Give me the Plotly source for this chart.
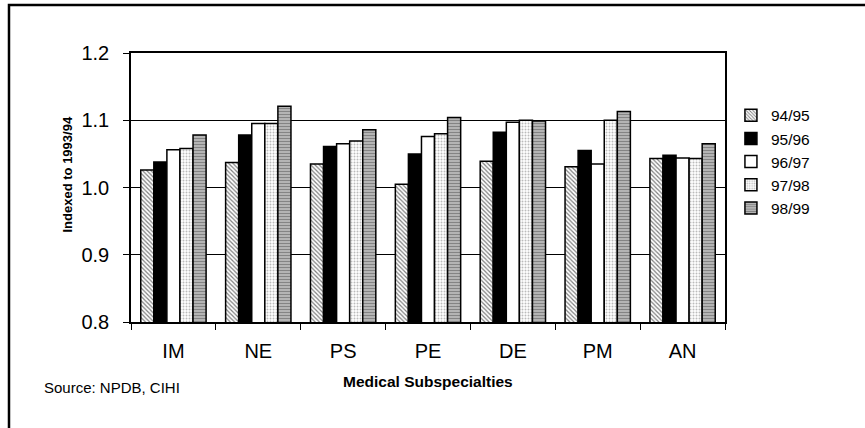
import plotly.graph_objects as go

categories = ["IM", "NE", "PS", "PE", "DE", "PM", "AN"]
series_names = ["94/95", "95/96", "96/97", "97/98", "98/99"]
v9495 = [1.026, 1.037, 1.035, 1.005, 1.039, 1.031, 1.043]
v9596 = [1.038, 1.078, 1.061, 1.050, 1.082, 1.055, 1.048]
v9697 = [1.056, 1.095, 1.065, 1.076, 1.097, 1.035, 1.044]
v9798 = [1.058, 1.095, 1.069, 1.080, 1.100, 1.100, 1.043]
v9899 = [1.078, 1.121, 1.086, 1.104, 1.099, 1.113, 1.065]
values = [v9495, v9596, v9697, v9798, v9899]

styles = [
    dict(color="white", pattern=dict(shape="\\", fgcolor="#000000", bgcolor="#ffffff", size=3, solidity=0.4)),
    dict(color="black"),
    dict(color="white"),
    dict(color="white", pattern=dict(shape=".", fgcolor="#777777", bgcolor="#ffffff", size=3, solidity=0.35)),
    dict(color="#aaaaaa", pattern=dict(shape="-", fgcolor="#444444", bgcolor="#c4c4c4", size=3, solidity=0.5)),
]

FONT = "Arial, Liberation Sans, sans-serif"

fig = go.Figure()
for i, (name, vals, st) in enumerate(zip(series_names, values, styles)):
    marker = dict(line=dict(color="black", width=1.5), **st)
    fig.add_trace(go.Bar(x=categories, y=vals, name=name, marker=marker))

fig.update_layout(
    width=865, height=428,
    margin=dict(l=131, r=140, t=53, b=106),
    paper_bgcolor="white", plot_bgcolor="white",
    barmode="group", bargap=0.23, bargroupgap=0,
    font=dict(family=FONT, color="black"),
    showlegend=True,
    legend=dict(x=1.01, xanchor="left", y=0.83, yanchor="top",
                font=dict(size=15.5, family=FONT),
                traceorder="normal",
                bgcolor="rgba(0,0,0,0)"),
    xaxis=dict(showline=True, linecolor="black", linewidth=1.5, mirror=True,
               ticks="outside", ticklen=6, tickcolor="black", tickson="boundaries",
               ticklabelstandoff=10,
               tickfont=dict(size=20, family=FONT), showgrid=False),
    yaxis=dict(range=[0.8, 1.2], dtick=0.1, tickformat=".1f",
               showline=True, linecolor="black", linewidth=1.5, mirror=True,
               ticks="outside", ticklen=6, tickcolor="black",
               ticklabelstandoff=10,
               tickfont=dict(size=20, family=FONT),
               showgrid=True, gridcolor="black", gridwidth=1, zeroline=False),
    annotations=[
        dict(text="<b>Indexed to 1993/94</b>", xref="paper", yref="paper",
             x=-0.107, y=0.55, textangle=-90, showarrow=False,
             font=dict(size=13, family=FONT), xanchor="center", yanchor="middle"),
        dict(text="<b>Medical Subspecialties</b>", xref="paper", yref="paper",
             x=0.5, y=-0.223, showarrow=False,
             font=dict(size=15.5, family=FONT), xanchor="center", yanchor="middle"),
        dict(text="Source: NPDB, CIHI", xref="paper", yref="paper",
             x=-0.1498, y=-0.245, showarrow=False,
             font=dict(size=15, family=FONT), xanchor="left", yanchor="middle"),
    ],
    shapes=[
        dict(type="rect", xref="paper", yref="paper",
             x0=-0.2054, x1=1.244, y0=-0.42, y1=1.1784,
             line=dict(color="black", width=2.5), fillcolor="rgba(0,0,0,0)", layer="below"),
    ],
)

fig.write_html("out.html")
